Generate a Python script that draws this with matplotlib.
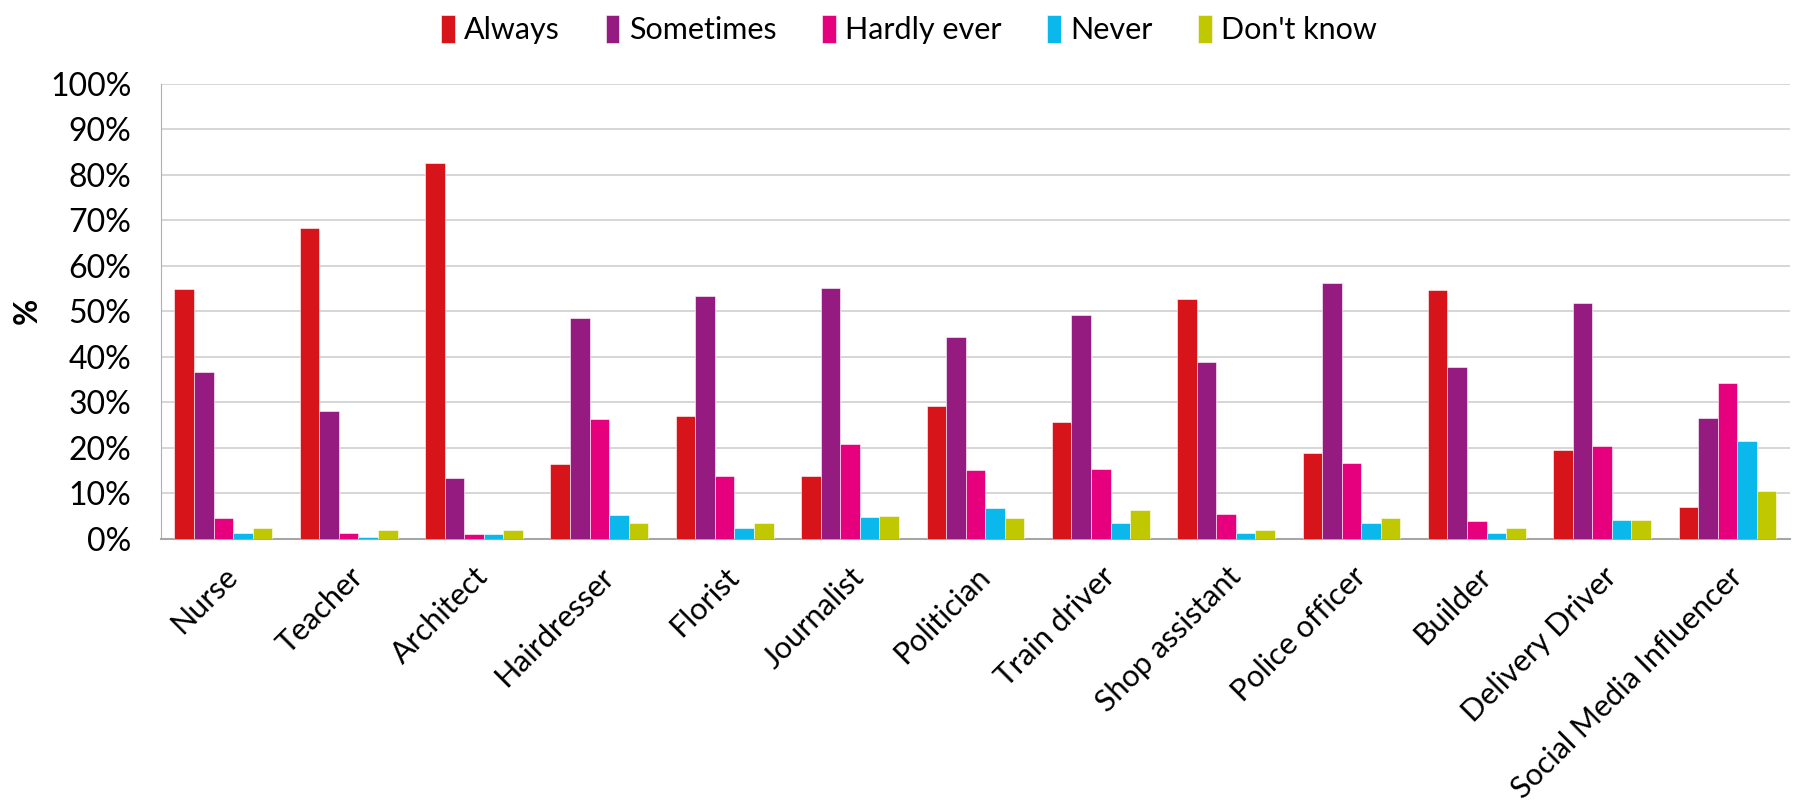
import numpy as np
import matplotlib.pyplot as plt
from matplotlib.ticker import PercentFormatter

plt.rcParams['font.family'] = ['Lato', 'DejaVu Sans']

# %% data
jobs = ['Nurse', 'Teacher', 'Architect', 'Hairdresser', 'Florist', 'Journalist',
        'Politician', 'Train driver', 'Shop assistant', 'Police officer',
        'Builder', 'Delivery Driver', 'Social Media Influencer']

always     = [54.8, 68.2, 82.5, 16.4, 27.0, 13.7, 29.2, 25.6, 52.7, 18.9, 54.7, 19.5, 7.0]
sometimes  = [36.6, 28.0, 13.2, 48.4, 53.2, 55.1, 44.2, 49.1, 38.7, 56.1, 37.7, 51.8, 26.5]
hardly     = [4.5, 1.2, 0.9, 26.3, 13.7, 20.8, 15.1, 15.2, 5.3, 16.7, 3.8, 20.3, 34.1]
never      = [1.1, 0.3, 0.9, 5.1, 2.3, 4.8, 6.7, 3.4, 1.2, 3.4, 1.2, 4.1, 21.5]
dont_know  = [2.3, 1.8, 1.9, 3.4, 3.4, 5.0, 4.5, 6.3, 1.8, 4.5, 2.3, 4.0, 10.5]

series = ['Always', 'Sometimes', 'Hardly ever', 'Never', "Don't know"]
colours = ['#D7141A', '#951B81', '#E6007E', '#0BB8EB', '#BFC800']

# %% plot
fig = plt.figure(figsize=(18.11, 8.11), dpi=100)
ax = fig.add_axes([0.0887, 0.336, 0.8998, 0.561])

x = np.arange(len(jobs))
w = 0.156
for i, (vals, name, col) in enumerate(zip([always, sometimes, hardly, never, dont_know],
                                          series, colours)):
    ax.bar(x + (i - 2) * w, vals, w, color=col, label=name,
           edgecolor='white', linewidth=0.4, zorder=3)

ax.set_xlim(-0.5, len(jobs) - 0.5)
ax.set_ylim(0, 100)
ax.set_yticks(np.arange(0, 101, 10))
ax.yaxis.set_major_formatter(PercentFormatter(decimals=0))
ax.grid(axis='y', color='#d0d0d0', linewidth=1.2, zorder=0)

ax.set_xticks(x)
ax.set_xticklabels(jobs, rotation=45, ha='right', rotation_mode='anchor')
ax.tick_params(axis='x', length=0, pad=17, labelsize=22)
ax.tick_params(axis='y', length=0, pad=21, labelsize=23)

for s in ['top', 'right']:
    ax.spines[s].set_visible(False)
ax.spines['left'].set_color('#b0b0b0')
ax.spines['bottom'].set_color('#a6a6a6')
ax.spines['bottom'].set_linewidth(1.5)

ax.set_ylabel('%', fontsize=23, fontweight='bold', labelpad=6)

fig.legend(loc='upper center', bbox_to_anchor=(0.502, 1.015), ncol=5, frameon=False,
           fontsize=22, handlelength=0.45, handleheight=1.0, handletextpad=0.3,
           columnspacing=1.5)

fig.savefig('out.png', dpi=100)
